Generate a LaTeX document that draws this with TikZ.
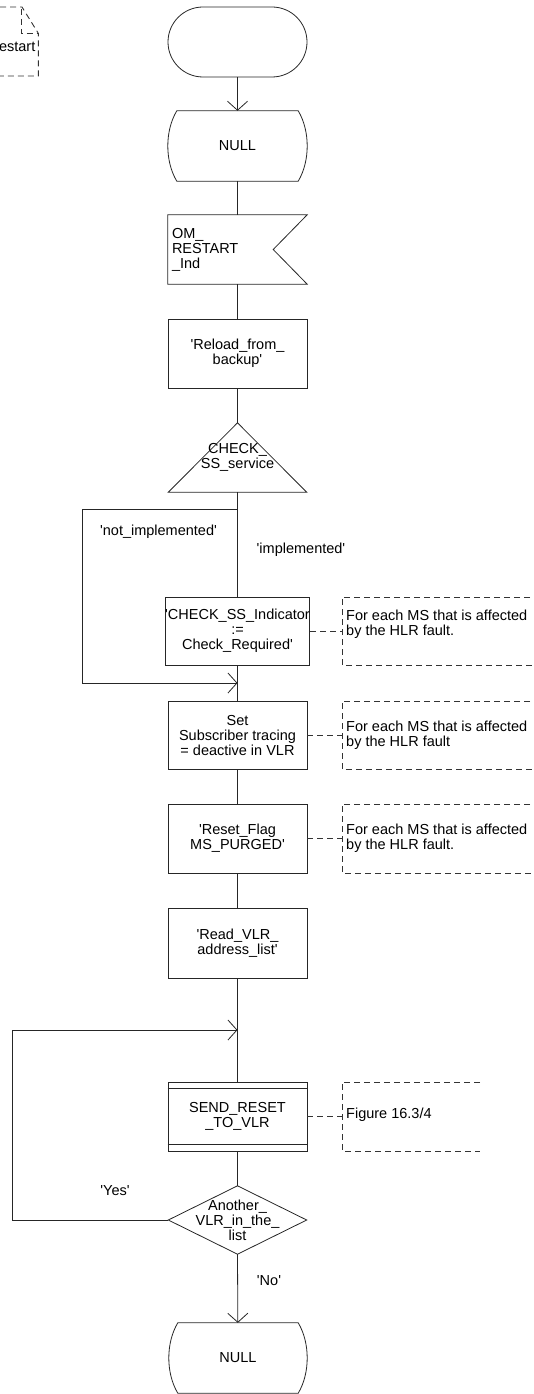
\documentclass[tikz,border=0pt]{standalone}
\usepackage{fontspec}
\newfontfamily\arial{Liberation Sans}
\usetikzlibrary{arrows.meta}
\tikzset{
  txt/.style={font=\arial\fontsize{14.5}{15}\selectfont, text=black},
  sym/.style={draw=black!85, line width=0.8pt},
  flow/.style={draw=black!85, line width=0.8pt},
  arr/.style={flow, -{Straight Barb[length=9pt,width=20pt,line width=0.8pt]}},
  dsh/.style={draw=black!80, line width=0.9pt, dash pattern=on 6pt off 4pt},
  shp/.style={txt, minimum width=139, minimum height=69, inner sep=0pt, align=center},
  procbox/.style={shp, sym},
  plainshape/.style={shp, draw=none},
  lbl/.style={txt, inner sep=0pt},
  ctext/.style={txt, inner sep=0pt, align=left, anchor=west},
}
\begin{document}
\begin{tikzpicture}[x=1pt,y=-1pt]
\useasboundingbox (0,0) rectangle (533,1394);
\clip (0,0) rectangle (533,1394);

% page reference (Restart)
\node[lbl, anchor=east] (rs) at (35.5,47) {Restart};
\draw[dsh] (-30,7) -- (22,7) -- (38.3,33.3) -- (38.3,76) -- (-30,76);
\draw[dsh] (21,9) -- (21,33.3) -- (38.3,33.3);

% start
\node[procbox, rounded corners=35pt, minimum height=70] (start) at (237.5,42) {};

% NULL state 1
\node[plainshape, minimum height=70] (null1) at (237.5,146) {NULL};
\draw[sym] ([xshift=9]null1.north west) -- ([xshift=-9]null1.north east)
  .. controls ([xshift=3,yshift=-20]null1.north east) and ([xshift=3,yshift=20]null1.south east) .. ([xshift=-9]null1.south east)
  -- ([xshift=9]null1.south west)
  .. controls ([xshift=-3,yshift=20]null1.south west) and ([xshift=-3,yshift=-20]null1.north west) .. cycle;

% input signal
\node[plainshape, text width=131, inner xsep=4pt, align=left] (in1) at (237.5,249.5) {OM\_\\RESTART\\\_Ind};
\draw[sym] (in1.north west) -- (in1.north east) -- ([xshift=-34]in1.east) -- (in1.south east) -- (in1.south west) -- cycle;

% task
\node[procbox] (reload) at (237.5,353.5) {'Reload\_from\_\\backup'};

% triangle decision
\node[plainshape, minimum width=138] (chk) at (237.5,457.5) {CHECK\_\\SS\_service};
\draw[sym] (chk.north) -- (chk.south east) -- (chk.south west) -- cycle;

% tasks
\node[procbox, minimum height=68] (css) at (237.5,631) {'CHECK\_SS\_Indicator\\:=\\Check\_Required'};
\node[procbox, minimum height=68] (set) at (237.5,735) {Set\\Subscriber tracing\\= deactive in VLR};
\node[procbox] (reset) at (237.5,838.5) {'Reset\_Flag\\MS\_PURGED'};
\node[procbox, minimum height=70] (read) at (237.5,943) {'Read\_VLR\_\\address\_list'};

% procedure call
\node[procbox] (send) at (237.5,1116.5) {SEND\_RESET\\\_TO\_VLR};
\draw[sym] ([yshift=-7]send.north west) -- ([yshift=-7]send.north east);
\draw[sym] ([yshift=7]send.south west) -- ([yshift=7]send.south east);

% diamond decision
\node[plainshape, minimum width=138, minimum height=68] (dec) at (237.5,1220) {Another\_\\VLR\_in\_the\_\\list};
\draw[sym] (dec.north) -- (dec.east) -- (dec.south) -- (dec.west) -- cycle;

% NULL state 2
\node[plainshape, minimum width=138, minimum height=70] (null2) at (238,1358) {NULL};
\draw[sym] ([xshift=9]null2.north west) -- ([xshift=-9]null2.north east)
  .. controls ([xshift=3,yshift=-20]null2.north east) and ([xshift=3,yshift=20]null2.south east) .. ([xshift=-9]null2.south east)
  -- ([xshift=9]null2.south west)
  .. controls ([xshift=-3,yshift=20]null2.south west) and ([xshift=-3,yshift=-20]null2.north west) .. cycle;

% junction coordinates
\coordinate (b1) at (237.5,509);
\coordinate (j1) at (237.5,683);
\coordinate (j2) at (237.5,1030);

% flow lines
\draw[arr] (start) -- (null1);
\draw[flow] (null1) -- (in1);
\draw[flow] (in1) -- (reload);
\draw[flow] (reload) -- (chk.north);
\draw[flow] (chk.south) -- (css);
\draw[arr] (b1) -- (82,509) -- (82,683) -- (j1);
\draw[flow] (css) -- (set);
\draw[flow] (set) -- (reset);
\draw[flow] (reset) -- (read);
\draw[flow] (read) -- (send);
\draw[flow] (send) -- (dec.north);
\draw[arr] (dec.south) -- (null2);
\draw[arr] (dec.west) -- (12.7,1220) -- (12.7,1030) -- (j2);

% branch labels
\node[lbl] (lni) at (158.5,532) {'not\_implemented'};
\node[lbl] (li) at (301,550) {'implemented'};
\node[lbl] (ly) at (115,1191) {'Yes'};
\node[lbl] (ln) at (269,1281) {'No'};

% comments
\coordinate (c1) at (342,631);
\coordinate (c2) at (342,735);
\coordinate (c3) at (342,838.5);
\coordinate (c4) at (342,1116.5);
\draw[dsh] (560,597) -- (342,597) -- (342,665) -- (560,665);
\draw[dsh] (css.east) -- (c1);
\node[ctext] (c1t) at (346,624) {For each MS that is affected\\by the HLR fault.};

\draw[dsh] (560,701) -- (342,701) -- (342,769) -- (560,769);
\draw[dsh] (set.east) -- (c2);
\node[ctext] (c2t) at (346,735) {For each MS that is affected\\by the HLR fault};

\draw[dsh] (560,804) -- (342,804) -- (342,873) -- (560,873);
\draw[dsh] (reset.east) -- (c3);
\node[ctext] (c3t) at (346,838.5) {For each MS that is affected\\by the HLR fault.};

\draw[dsh] (480,1082) -- (342,1082) -- (342,1151) -- (480,1151);
\draw[dsh] (send.east) -- (c4);
\node[ctext] (c4t) at (346,1115) {Figure 16.3/4};
\end{tikzpicture}
\end{document}
